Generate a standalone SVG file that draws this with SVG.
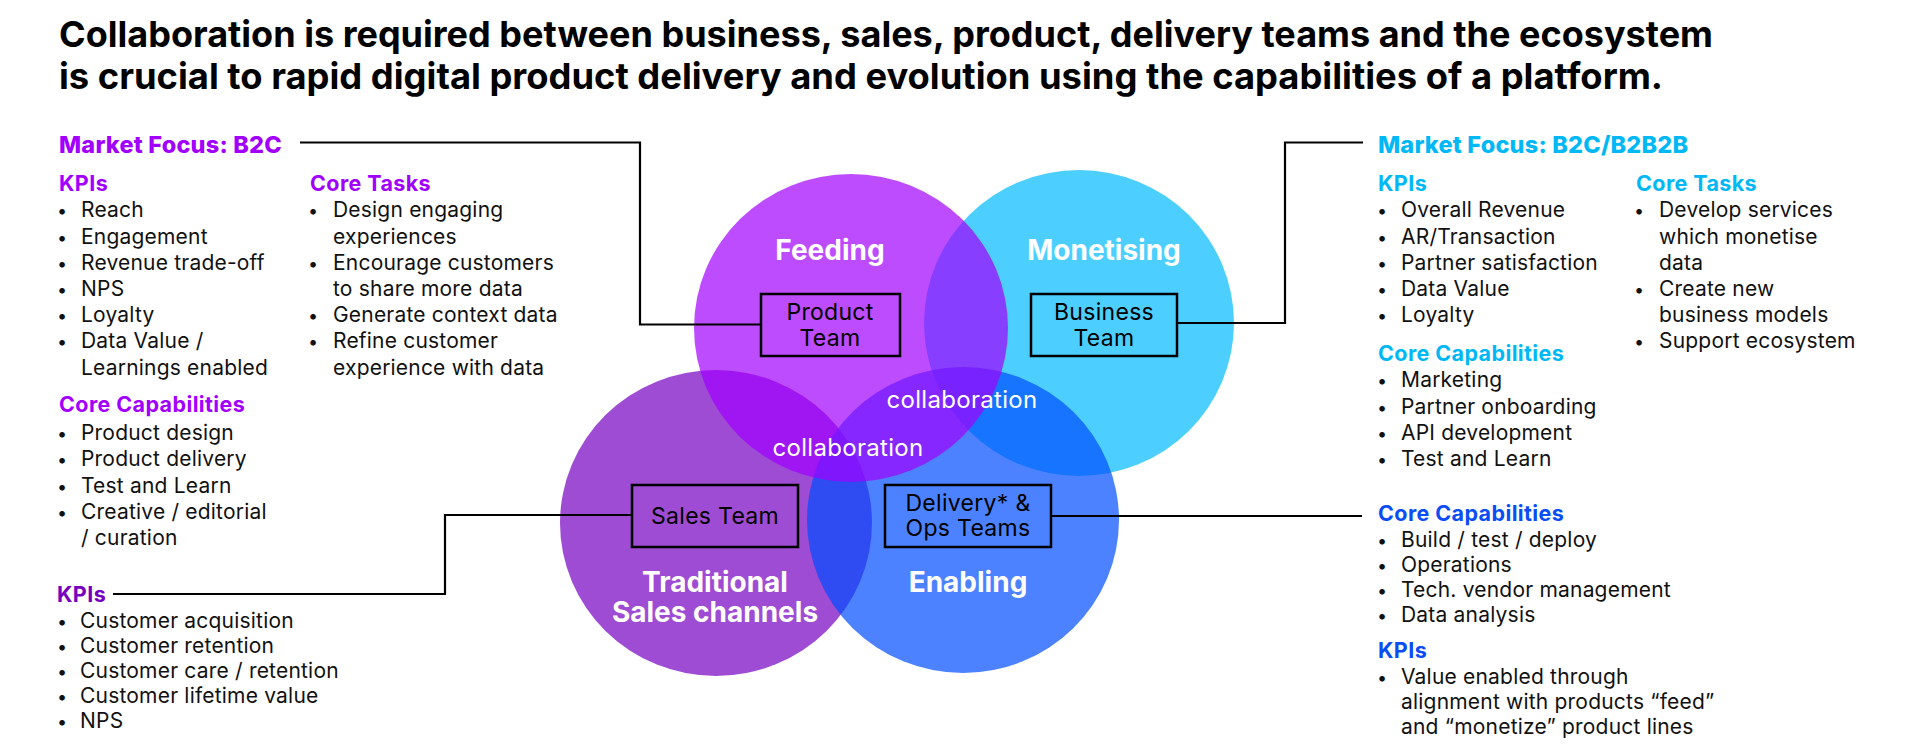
<svg xmlns="http://www.w3.org/2000/svg" width="1913" height="756" viewBox="0 0 1913 756">
  <style>
    text { font-family: Inter, "Liberation Sans", "DejaVu Sans", sans-serif; }
    .title { font-size: 36px; font-weight: 700; fill: #000; }
    .focus { font-size: 23.5px; font-weight: 800; letter-spacing: 0.2px; }
    .head { font-size: 21.5px; font-weight: 700; letter-spacing: 0.4px; }
    .body { font-size: 21px; fill: #111; letter-spacing: 0.2px; }
    .bul { font-size: 18px; fill: #111; text-anchor: middle; }
    .purple { fill: #A100FF; }
    .dpurple { fill: #7500C0; }
    .cyan { fill: #00B8F5; }
    .blue { fill: #0A4DF5; }
    .zone { font-size: 28px; font-weight: 700; fill: #fff; text-anchor: middle; }
    .team { font-size: 23px; fill: #000; text-anchor: middle; letter-spacing: 0.3px; }
    .collab { font-size: 24px; fill: #fff; text-anchor: middle; letter-spacing: 0.3px; }
    .box { fill: none; stroke: #000; stroke-width: 2.5; }
    .link { fill: none; stroke: #000; stroke-width: 2.2; }
    .venn { fill-opacity: 0.7; }
  </style>

  <rect width="1913" height="756" fill="#fff"/>

  <!-- Heading -->
  <g id="title">
    <text class="title" x="59" y="47" textLength="1654" lengthAdjust="spacingAndGlyphs">Collaboration is required between business, sales, product, delivery teams and the ecosystem</text>
    <text class="title" x="59" y="89" textLength="1604" lengthAdjust="spacingAndGlyphs">is crucial to rapid digital product delivery and evolution using the capabilities of a platform.</text>
  </g>

  <!-- Venn nodes: drawn bottom to top -->
  <g id="monetising">
    <ellipse class="venn" cx="1079" cy="323" rx="155" ry="153" fill="#00BAFF"/>
    <text class="zone" x="1104" y="260">Monetising</text>
    <rect class="box" x="1031" y="294" width="146" height="62"/>
    <text class="team" x="1104" y="320">Business</text>
    <text class="team" x="1104" y="346">Team</text>
  </g>

  <g id="sales">
    <ellipse class="venn" cx="716" cy="523" rx="156" ry="153" fill="#7500C0"/>
    <text class="zone" x="715" y="592">Traditional</text>
    <text class="zone" x="715" y="622">Sales channels</text>
    <rect class="box" x="632" y="485" width="166" height="62"/>
    <text class="team" x="715" y="524">Sales Team</text>
  </g>

  <g id="enabling">
    <ellipse class="venn" cx="963" cy="520" rx="156" ry="153" fill="#004DFF"/>
    <text class="zone" x="968" y="592">Enabling</text>
    <rect class="box" x="885" y="485" width="166" height="62"/>
    <text class="team" x="968" y="511">Delivery* &amp;</text>
    <text class="team" x="968" y="536">Ops Teams</text>
  </g>

  <g id="feeding">
    <ellipse class="venn" cx="851" cy="328" rx="157" ry="154" fill="#A100FF"/>
    <text class="zone" x="830" y="260">Feeding</text>
    <rect class="box" x="761" y="294" width="139" height="62"/>
    <text class="team" x="830" y="320">Product</text>
    <text class="team" x="830" y="346">Team</text>
  </g>

  <g id="collaboration">
    <text class="collab" x="962" y="408">collaboration</text>
    <text class="collab" x="848" y="456">collaboration</text>
  </g>

  <!-- Connectors from team boxes to their detail panels -->
  <g id="connectors">
    <path class="link" d="M300,142.5 H640 V324.5 H761"/>
    <path class="link" d="M1177,323 H1285 V142.5 H1363"/>
    <path class="link" d="M632,515 H445 V594 H113"/>
    <path class="link" d="M1051,516 H1362"/>
  </g>

  <!-- Product team panel -->
  <g id="panel-product">
    <text class="focus purple" x="59" y="153">Market Focus: B2C</text>
    <text class="head purple" x="59" y="191">KPIs</text>
    <text class="bul" x="62" y="217">•</text><text class="body" x="81" y="217">Reach</text>
    <text class="bul" x="62" y="243.5">•</text><text class="body" x="81" y="243.5">Engagement</text>
    <text class="bul" x="62" y="269.7">•</text><text class="body" x="81" y="269.7">Revenue trade-off</text>
    <text class="bul" x="62" y="296">•</text><text class="body" x="81" y="296">NPS</text>
    <text class="bul" x="62" y="322">•</text><text class="body" x="81" y="322">Loyalty</text>
    <text class="bul" x="62" y="348.3">•</text><text class="body" x="81" y="348.3">Data Value /</text>
    <text class="body" x="81" y="374.5">Learnings enabled</text>

    <text class="head purple" x="59" y="412">Core Capabilities</text>
    <text class="bul" x="62" y="440">•</text><text class="body" x="81" y="440">Product design</text>
    <text class="bul" x="62" y="466.3">•</text><text class="body" x="81" y="466.3">Product delivery</text>
    <text class="bul" x="62" y="492.6">•</text><text class="body" x="81" y="492.6">Test and Learn</text>
    <text class="bul" x="62" y="519">•</text><text class="body" x="81" y="519">Creative / editorial</text>
    <text class="body" x="81" y="545.2">/ curation</text>

    <text class="head purple" x="310" y="191">Core Tasks</text>
    <text class="bul" x="313" y="217">•</text><text class="body" x="333" y="217">Design engaging</text>
    <text class="body" x="333" y="243.5">experiences</text>
    <text class="bul" x="313" y="269.7">•</text><text class="body" x="333" y="269.7">Encourage customers</text>
    <text class="body" x="333" y="296">to share more data</text>
    <text class="bul" x="313" y="322">•</text><text class="body" x="333" y="322">Generate context data</text>
    <text class="bul" x="313" y="348.3">•</text><text class="body" x="333" y="348.3">Refine customer</text>
    <text class="body" x="333" y="374.5">experience with data</text>
  </g>

  <!-- Sales team panel -->
  <g id="panel-sales">
    <text class="head dpurple" x="57" y="602">KPIs</text>
    <text class="bul" x="62" y="628.4">•</text><text class="body" x="80" y="628.4">Customer acquisition</text>
    <text class="bul" x="62" y="653.4">•</text><text class="body" x="80" y="653.4">Customer retention</text>
    <text class="bul" x="62" y="678.4">•</text><text class="body" x="80" y="678.4">Customer care / retention</text>
    <text class="bul" x="62" y="703.4">•</text><text class="body" x="80" y="703.4">Customer lifetime value</text>
    <text class="bul" x="62" y="728.4">•</text><text class="body" x="80" y="728.4">NPS</text>
  </g>

  <!-- Business team panel -->
  <g id="panel-business">
    <text class="focus cyan" x="1378" y="153">Market Focus: B2C/B2B2B</text>
    <text class="head cyan" x="1378" y="191">KPIs</text>
    <text class="bul" x="1382" y="217">•</text><text class="body" x="1401" y="217">Overall Revenue</text>
    <text class="bul" x="1382" y="243.5">•</text><text class="body" x="1401" y="243.5">AR/Transaction</text>
    <text class="bul" x="1382" y="269.7">•</text><text class="body" x="1401" y="269.7">Partner satisfaction</text>
    <text class="bul" x="1382" y="296">•</text><text class="body" x="1401" y="296">Data Value</text>
    <text class="bul" x="1382" y="322">•</text><text class="body" x="1401" y="322">Loyalty</text>

    <text class="head cyan" x="1378" y="361">Core Capabilities</text>
    <text class="bul" x="1382" y="387">•</text><text class="body" x="1401" y="387">Marketing</text>
    <text class="bul" x="1382" y="413.5">•</text><text class="body" x="1401" y="413.5">Partner onboarding</text>
    <text class="bul" x="1382" y="440">•</text><text class="body" x="1401" y="440">API development</text>
    <text class="bul" x="1382" y="466.2">•</text><text class="body" x="1401" y="466.2">Test and Learn</text>

    <text class="head cyan" x="1636" y="191">Core Tasks</text>
    <text class="bul" x="1639" y="217">•</text><text class="body" x="1659" y="217">Develop services</text>
    <text class="body" x="1659" y="243.5">which monetise</text>
    <text class="body" x="1659" y="269.7">data</text>
    <text class="bul" x="1639" y="296">•</text><text class="body" x="1659" y="296">Create new</text>
    <text class="body" x="1659" y="322">business models</text>
    <text class="bul" x="1639" y="348.3">•</text><text class="body" x="1659" y="348.3">Support ecosystem</text>
  </g>

  <!-- Delivery and ops panel -->
  <g id="panel-delivery">
    <text class="head blue" x="1378" y="521">Core Capabilities</text>
    <text class="bul" x="1382" y="546.7">•</text><text class="body" x="1401" y="546.7">Build / test / deploy</text>
    <text class="bul" x="1382" y="571.7">•</text><text class="body" x="1401" y="571.7">Operations</text>
    <text class="bul" x="1382" y="596.7">•</text><text class="body" x="1401" y="596.7">Tech. vendor management</text>
    <text class="bul" x="1382" y="621.7">•</text><text class="body" x="1401" y="621.7">Data analysis</text>
    <text class="head blue" x="1378" y="658.3">KPIs</text>
    <text class="bul" x="1382" y="684">•</text><text class="body" x="1401" y="684">Value enabled through</text>
    <text class="body" x="1401" y="709.3">alignment with products “feed”</text>
    <text class="body" x="1401" y="734.3">and “monetize” product lines</text>
  </g>
</svg>
